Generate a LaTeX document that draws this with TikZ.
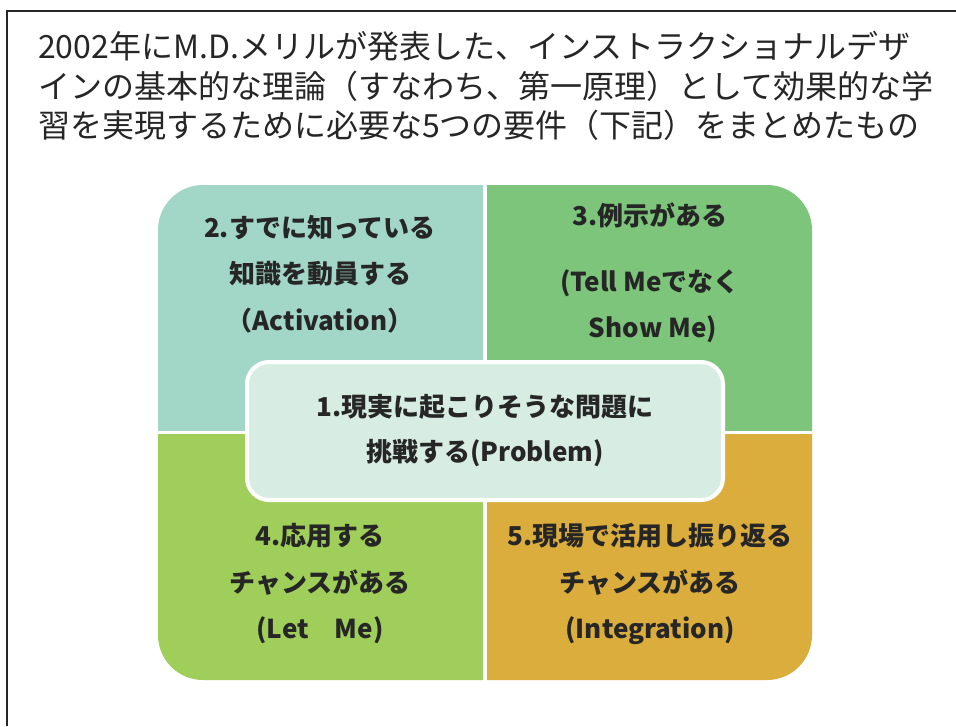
\documentclass[tikz,border=0pt]{standalone}
\usepackage{fontspec}
\setmainfont{Noto Sans CJK JP}
\definecolor{qTL}{HTML}{A2D6C6}
\definecolor{qTR}{HTML}{7DC57B}
\definecolor{qBL}{HTML}{A0CE5A}
\definecolor{qBR}{HTML}{DBAD3C}
\definecolor{qC}{HTML}{D7ECE3}
\definecolor{txt}{HTML}{262626}
\tikzset{
  qtext/.style={align=center, text=txt, font=\bfseries\fontsize{26}{46.5}\selectfont, inner sep=0pt},
  titletext/.style={anchor=west, align=left, text=txt, font=\fontsize{32}{39.5}\selectfont, inner sep=0pt},
}
\begin{document}
\begin{tikzpicture}[x=1pt,y=-1pt]
\useasboundingbox (0,0) rectangle (956,726);
\fill[white] (0,0) rectangle (956,726);
% frame
\draw[line width=2.5pt, txt] (7,726) -- (7,11) -- (956,11);
% title
\node[titletext] (title) at (38,86) {2002年にM.D.メリルが発表した、インストラクショナルデザ\\インの基本的な理論（すなわち、第一原理）として効果的な学\\習を実現するために必要な5つの要件（下記）をまとめたもの};
% quadrants
\begin{scope}\clip (150,180) rectangle (483,430);
\fill[qTL, rounded corners=45pt] (158,185) rectangle (812,680);\end{scope}
\begin{scope}\clip (487,180) rectangle (820,430);
\fill[qTR, rounded corners=45pt] (158,185) rectangle (812,680);\end{scope}
\begin{scope}\clip (150,434) rectangle (483,690);
\fill[qBL, rounded corners=45pt] (158,185) rectangle (812,680);\end{scope}
\begin{scope}\clip (487,434) rectangle (820,690);
\fill[qBR, rounded corners=45pt] (158,185) rectangle (812,680);\end{scope}
% quadrant texts
\node[qtext] (act) at (320,274) {2.すでに知っている\\知識を動員する\\（Activation）};
\node[qtext] (show) at (650,273) {3.例示がある\\[19pt](Tell Meでなく\\\ Show Me)};
\node[qtext] (app) at (320,584) {4.応用する\\チャンスがある\\(Let　Me)};
\node[qtext] (integ) at (650,584) {5.現場で活用し振り返る\\チャンスがある\\(Integration)};
% center
\draw[fill=qC, draw=white, line width=4pt, rounded corners=22pt] (247,362) rectangle (723,500);
\node[qtext, font=\bfseries\fontsize{26}{45}\selectfont] (prob) at (485,431) {1.現実に起こりそうな問題に\\挑戦する(Problem)};
\end{tikzpicture}
\end{document}
